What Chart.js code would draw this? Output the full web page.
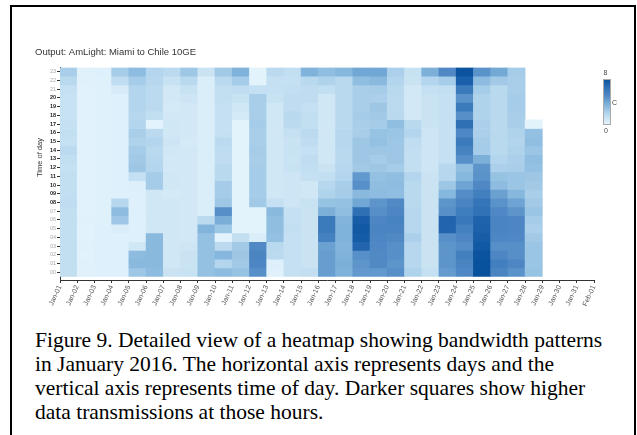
<!DOCTYPE html>
<html>
<head>
<meta charset="utf-8">
<script src="https://cdn.jsdelivr.net/npm/chart.js@4.4.1/dist/chart.umd.min.js"></script>
<style>
    html, body { margin: 0; padding: 0; background: #fff; }
    body { width: 637px; height: 435px; position: relative; overflow: hidden; }
    #frame { position: absolute; left: 10px; top: 5px; width: 622px; height: 440px; border: 2px solid #000; }
    #wrap { position: absolute; left: 0; top: 0; width: 637px; height: 320px; }
    #caption {
        position: absolute; left: 35px; top: 328px;
        font-family: "Liberation Serif", "Times New Roman", serif;
        font-size: 21.5px; line-height: 24px; color: #000; white-space: nowrap;
    }
</style>
</head>
<body>
<div id="frame"></div>
<div id="wrap"><canvas id="heatChart" width="637" height="320"></canvas></div>
<div id="caption">
Figure 9. Detailed view of a heatmap showing bandwidth patterns<br>
in January 2016. The horizontal axis represents days and the<br>
vertical axis represents time of day. Darker squares show higher<br>
data transmissions at those hours.
</div>
<script>
// Axis labels
const days = ['Jan-01', 'Jan-02', 'Jan-03', 'Jan-04', 'Jan-05', 'Jan-06', 'Jan-07', 'Jan-08',
    'Jan-09', 'Jan-10', 'Jan-11', 'Jan-12', 'Jan-13', 'Jan-14', 'Jan-15', 'Jan-16',
    'Jan-17', 'Jan-18', 'Jan-19', 'Jan-20', 'Jan-21', 'Jan-22', 'Jan-23', 'Jan-24',
    'Jan-25', 'Jan-26', 'Jan-27', 'Jan-28', 'Jan-29', 'Jan-30', 'Jan-31', 'Feb-01'];
const hours = ['00', '01', '02', '03', '04', '05', '06', '07', '08', '09', '10', '11',
    '12', '13', '14', '15', '16', '17', '18', '19', '20', '21', '22', '23'];
const legendTicks = ['8', 'C', '0'];
const chartTitle = 'Output: AmLight: Miami to Chile 10GE';
const yTitle = 'Time of day';

// Bandwidth per day, hour 00 -> 23
const d01 = [1.5, 1.5, 1.5, 1.5, 1.5, 1.5, 1.5, 1.5, 1.6, 1.5, 1.5, 1.5, 1.4, 1.5, 1.7, 1.4, 1.5, 1.4, 1.3, 1.3, 1.3, 1.4, 1.8, 2.3];
const d02 = [0.2, 0.2, 0.15, 0.2, 0.15, 0.15, 0.2, 0.15, 0.15, 0.15, 0.15, 0.15, 0.15, 0.15, 0.15, 0.15, 0.15, 0.15, 0.15, 0.15, 0.15, 0.15, 0.2, 0.2];
const d03 = [0.3, 0.3, 0.3, 0.3, 0.3, 0.3, 0.25, 0.25, 0.25, 0.25, 0.25, 0.25, 0.25, 0.25, 0.25, 0.25, 0.25, 0.25, 0.25, 0.25, 0.25, 0.25, 0.25, 0.3];
const d04 = [0.3, 0.3, 0.3, 0.3, 0.3, 0.5, 2.6, 3.1, 1.9, 0.3, 0.3, 0.3, 0.3, 0.3, 0.3, 0.3, 0.3, 0.3, 0.3, 0.3, 0.3, 0.7, 1.6, 2.4];
const d05 = [2.6, 3.2, 3.1, 1.0, 0.3, 0.3, 0.3, 0.3, 0.3, 0.3, 0.4, 1.4, 2.6, 2.5, 2.4, 2.1, 2.3, 2.0, 1.9, 2.0, 2.0, 2.0, 2.4, 3.1];
const d06 = [3.1, 3.2, 3.2, 3.2, 3.2, 1.0, 1.0, 1.0, 1.0, 1.0, 2.4, 2.4, 2.0, 1.9, 1.8, 2.0, 1.7, 0.05, 1.5, 1.7, 1.7, 1.7, 1.9, 2.0];
const d07 = [1.2, 1.0, 1.0, 1.0, 1.0, 1.0, 1.0, 1.0, 1.0, 0.8, 1.0, 1.0, 0.9, 0.9, 1.0, 1.1, 1.0, 1.0, 0.9, 0.8, 0.9, 0.9, 1.3, 1.7];
const d08 = [1.3, 1.2, 1.2, 1.1, 0.9, 0.9, 0.9, 0.9, 0.9, 0.9, 0.9, 0.9, 0.9, 0.9, 0.9, 0.8, 0.9, 0.9, 0.9, 0.9, 1.1, 1.3, 1.8, 2.6];
const d09 = [2.9, 2.9, 2.9, 2.9, 2.9, 3.4, 1.7, 0.5, 0.5, 0.5, 0.5, 0.5, 0.5, 0.5, 0.5, 0.5, 0.5, 0.5, 0.5, 0.5, 0.5, 0.5, 0.5, 1.2];
const d10 = [3.1, 2.0, 3.3, 1.7, 0.05, 2.6, 3.7, 4.8, 2.6, 2.4, 2.4, 1.8, 1.8, 1.6, 1.6, 1.7, 1.4, 1.4, 1.4, 1.4, 1.5, 1.5, 1.8, 2.5];
const d11 = [2.8, 2.5, 2.6, 2.5, 1.5, 0.1, 0.1, 0.1, 0.1, 0.1, 0.1, 0.1, 0.1, 0.1, 0.1, 0.1, 0.1, 0.1, 0.8, 1.0, 1.3, 1.6, 2.4, 3.5];
const d12 = [4.8, 5.2, 5.3, 5.0, 0.5, 0.1, 0.1, 0.1, 2.5, 2.4, 2.4, 2.4, 2.4, 2.3, 2.4, 2.3, 2.3, 2.4, 2.3, 2.3, 2.3, 1.4, 0.1, 0.1];
const d13 = [0.2, 0.3, 1.7, 1.8, 2.9, 3.0, 3.0, 3.2, 1.4, 1.0, 1.0, 1.0, 1.0, 1.0, 1.0, 1.0, 1.0, 1.0, 1.0, 1.0, 1.3, 1.4, 1.4, 1.7];
const d14 = [1.4, 1.4, 1.4, 1.4, 1.4, 1.5, 1.4, 1.4, 1.1, 1.1, 1.1, 1.1, 1.3, 1.2, 1.3, 1.2, 1.4, 1.7, 1.8, 1.6, 1.6, 1.5, 1.4, 1.5];
const d15 = [1.5, 1.2, 1.2, 1.2, 1.2, 1.2, 1.2, 1.2, 1.3, 1.0, 1.0, 1.4, 1.5, 1.6, 1.4, 1.6, 1.7, 1.5, 1.5, 1.4, 1.6, 1.6, 1.8, 3.5];
const d16 = [4.3, 4.3, 4.3, 4.2, 5.6, 6.0, 6.0, 3.6, 2.8, 2.1, 1.9, 1.5, 1.2, 1.0, 1.0, 1.0, 1.0, 1.0, 1.0, 1.0, 1.0, 1.5, 2.1, 3.0];
const d17 = [3.5, 3.6, 3.5, 3.4, 3.5, 3.5, 3.4, 3.0, 2.9, 2.4, 2.3, 2.0, 1.9, 1.8, 1.8, 1.9, 1.9, 1.8, 1.8, 1.8, 1.8, 1.8, 1.8, 3.3];
const d18 = [4.5, 4.6, 4.8, 7.0, 7.5, 7.6, 7.4, 6.5, 4.0, 3.2, 4.8, 4.5, 2.5, 2.6, 2.6, 2.6, 2.3, 2.3, 2.4, 2.3, 2.3, 2.3, 3.0, 4.0];
const d19 = [4.5, 5.0, 5.0, 5.1, 5.2, 5.3, 5.2, 4.8, 4.6, 3.1, 3.0, 2.9, 2.6, 2.4, 2.6, 2.9, 2.8, 2.4, 2.5, 2.6, 2.2, 2.4, 3.2, 4.0];
const d20 = [4.8, 4.6, 4.8, 4.8, 5.0, 5.3, 5.4, 5.2, 5.0, 3.0, 3.1, 3.0, 2.4, 2.6, 2.6, 2.6, 2.7, 3.0, 1.8, 1.7, 1.7, 1.8, 2.0, 2.2];
const d21 = [2.1, 1.9, 1.9, 1.9, 2.2, 1.9, 1.9, 1.9, 1.8, 1.8, 1.8, 2.0, 1.5, 1.5, 1.5, 1.6, 2.0, 1.8, 0.9, 0.9, 0.9, 0.9, 1.2, 1.3];
const d22 = [1.4, 1.2, 1.2, 1.2, 1.2, 1.2, 1.2, 1.2, 1.2, 1.2, 1.2, 1.2, 1.1, 1.1, 1.1, 1.1, 1.1, 1.2, 1.2, 1.2, 1.2, 1.4, 2.0, 3.6];
const d23 = [4.4, 4.6, 4.6, 4.6, 4.8, 7.0, 7.0, 4.8, 4.6, 3.3, 2.6, 1.9, 1.9, 1.4, 1.4, 1.4, 1.4, 1.4, 1.4, 1.4, 1.4, 1.5, 2.4, 5.1];
const d24 = [5.1, 5.3, 5.7, 4.9, 5.2, 5.6, 6.1, 5.8, 5.3, 4.9, 4.1, 3.3, 3.0, 4.8, 5.4, 6.0, 5.1, 6.5, 4.8, 6.0, 4.7, 6.0, 7.3, 7.9];
const d25 = [8.0, 8.0, 7.9, 7.6, 7.4, 7.2, 7.1, 6.4, 6.3, 5.7, 5.1, 4.7, 4.6, 3.6, 2.4, 2.4, 2.2, 2.2, 2.1, 2.1, 2.1, 2.4, 3.1, 4.7];
const d26 = [5.3, 5.7, 5.2, 4.8, 5.2, 5.3, 5.3, 5.1, 4.7, 4.2, 3.1, 2.8, 2.2, 2.0, 1.8, 1.8, 1.8, 1.8, 1.8, 1.8, 1.8, 1.8, 2.5, 3.9];
const d27 = [4.7, 5.2, 4.8, 4.8, 5.1, 5.2, 5.2, 4.6, 4.1, 3.3, 2.7, 2.7, 2.3, 2.2, 2.1, 2.0, 2.1, 2.3, 2.3, 2.4, 2.4, 2.3, 2.3, 2.4];
const d28 = [2.8, 2.7, 2.7, 2.7, 2.5, 2.2, 2.4, 2.7, 2.5, 2.3, 2.5, 2.6, 2.9, 3.0, 2.7, 3.0, 2.9, 0.1, null, null, null, null, null, null];

const dayValues = [d01, d02, d03, d04, d05, d06, d07, d08, d09, d10, d11, d12, d13, d14,
    d15, d16, d17, d18, d19, d20, d21, d22, d23, d24, d25, d26, d27, d28];

// Colour ramp (light -> dark blue)
const ramp = [
    [228, 244, 253], [208, 231, 245], [179, 213, 237], [144, 190, 225], [112, 167, 212],
    [81, 137, 197], [59, 123, 188], [34, 101, 174], [8, 81, 156]
];

function colorFor(v) {
    v = Math.max(0, Math.min(8, v));
    const i = Math.min(7, Math.floor(v));
    const t = v - i;
    const a = ramp[i], b = ramp[i + 1];
    const c = a.map((x, k) => Math.round(x + (b[k] - x) * t));
    return 'rgb(' + c.join(',') + ')';
}

// Build cells
const cells = [];
dayValues.forEach((vals, d) => {
    vals.forEach((v, h) => {
        if (v === null) return;
        cells.push({ x: d + 0.5, y: [h, h + 1], v: v });
    });
});

const isWork = (i) => i >= 8 && i <= 20;

const extras = {
    id: 'extras',
    afterDraw(chart) {
        const ctx = chart.ctx;
        ctx.save();
        ctx.fillStyle = '#333';
        ctx.textBaseline = 'middle';
        ctx.font = '9.5px "Liberation Sans", Arial, sans-serif';
        ctx.fillText(chartTitle, 35, 52);

        // y axis title
        ctx.save();
        ctx.translate(40, 157.5);
        ctx.rotate(-Math.PI / 2);
        ctx.textAlign = 'center';
        ctx.font = '7.5px "Liberation Sans", Arial, sans-serif';
        ctx.fillText(yTitle, 0, 0);
        ctx.restore();

        // colour legend
        const lx = 603, ly = 79, lw = 8, lh = 46;
        const g = ctx.createLinearGradient(0, ly, 0, ly + lh);
        for (let s = 0; s <= 8; s++) g.addColorStop(s / 8, colorFor(8 - s));
        ctx.fillStyle = g;
        ctx.fillRect(lx, ly, lw, lh);
        ctx.strokeStyle = '#aaa';
        ctx.lineWidth = 1;
        ctx.strokeRect(lx + 0.5, ly + 0.5, lw - 1, lh - 1);
        ctx.fillStyle = '#444';
        ctx.font = '7px "Liberation Sans", Arial, sans-serif';
        ctx.textAlign = 'left';
        ctx.fillText(legendTicks[0], 603.5, 73);
        ctx.fillText(legendTicks[1], 612, 103.5);
        ctx.fillText(legendTicks[2], 604, 131);
        ctx.restore();
    }
};

new Chart(document.getElementById('heatChart'), {
    type: 'bar',
    data: {
        datasets: [{
            data: cells,
            backgroundColor: (c) => c.raw ? colorFor(c.raw.v) : '#fff',
            borderWidth: 0,
            barPercentage: 1,
            categoryPercentage: 1
        }]
    },
    options: {
        responsive: false,
        animation: false,
        layout: { padding: { top: 67.5, left: 0, right: 43, bottom: 0 } },
        plugins: {
            legend: { display: false },
            tooltip: { enabled: false }
        },
        scales: {
            x: {
                type: 'linear',
                min: 0,
                max: 31,
                offset: false,
                afterBuildTicks: (s) => { s.ticks = days.map((d, i) => ({ value: i })); },
                afterFit: (s) => { s.height = 40; s.paddingLeft = 0; s.paddingRight = 0; },
                grid: { drawOnChartArea: false, offset: false, color: '#333', tickLength: 3 },
                border: { color: '#333', width: 1 },
                ticks: {
                    autoSkip: false,
                    maxRotation: 65,
                    minRotation: 65,
                    padding: 1,
                    color: '#555',
                    font: { size: 7, family: '"Liberation Sans", Arial, sans-serif' },
                    callback: (v, i) => days[i]
                }
            },
            y: {
                type: 'linear',
                min: -0.4,
                max: 24,
                afterBuildTicks: (s) => { s.ticks = hours.map((h, i) => ({ value: i + 0.5 })); },
                afterFit: (s) => { s.width = 60; s.paddingTop = 0; s.paddingBottom = 0; },
                grid: { drawOnChartArea: false, color: '#333', tickLength: 3 },
                border: { color: '#333', width: 1 },
                ticks: {
                    autoSkip: false,
                    padding: 1,
                    color: (c) => isWork(c.index) ? '#222' : '#aaa',
                    font: (c) => ({ size: 5.5, weight: isWork(c.index) ? 'bold' : 'normal', family: '"Liberation Sans", Arial, sans-serif' }),
                    callback: (v, i) => hours[i]
                }
            }
        }
    },
    plugins: [extras]
});
</script>
</body>
</html>
